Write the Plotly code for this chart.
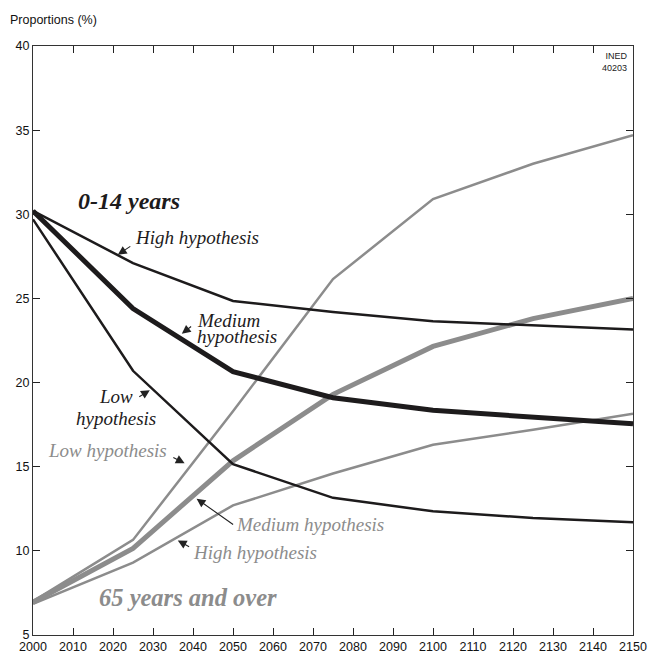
import plotly.graph_objects as go

years = [2000, 2025, 2050, 2075, 2100, 2125, 2150]
young_high = [30.2, 27.1, 24.85, 24.2, 23.65, 23.4, 23.15]
young_medium = [30.2, 24.4, 20.65, 19.1, 18.35, 17.95, 17.55]
young_low = [29.7, 20.7, 15.15, 13.15, 12.35, 11.95, 11.7]
old_low = [7.0, 10.65, 18.3, 26.15, 30.9, 33.0, 34.7]
old_medium = [6.95, 10.15, 15.35, 19.3, 22.15, 23.8, 25.0]
old_high = [6.85, 9.3, 12.7, 14.6, 16.3, 17.2, 18.15]

x_ticks = list(range(2000, 2151, 10))
y_ticks = [5, 10, 15, 20, 25, 30, 35, 40]

BLACK = "#1d1b1c"
GRAY = "#8c8c8c"
SERIF = "Liberation Serif, Times New Roman, serif"
SANS = "Liberation Sans, Arial, sans-serif"

fig = go.Figure()
series = [
    (old_high, GRAY, 2.5),
    (old_low, GRAY, 2.5),
    (old_medium, GRAY, 5),
    (young_low, BLACK, 2.5),
    (young_high, BLACK, 2.5),
    (young_medium, BLACK, 5),
]
for vals, col, w in series:
    fig.add_trace(go.Scatter(x=years, y=vals, mode="lines",
                             line=dict(color=col, width=w), hoverinfo="skip",
                             showlegend=False))

def txt(x, y, text, size, color, bold=False, italic=True, xanchor="center", family=SERIF):
    t = text
    if bold:
        t = "<b>" + t + "</b>"
    if italic:
        t = "<i>" + t + "</i>"
    fig.add_annotation(x=x, y=y, xref="x", yref="y", text=t, showarrow=False,
                       xanchor=xanchor, yanchor="middle",
                       font=dict(family=family, size=size, color=color))

def arrow(tx, ty, sx, sy):
    fig.add_annotation(x=tx, y=ty, ax=sx, ay=sy, xref="x", yref="y",
                       axref="x", ayref="y", text="", showarrow=True,
                       arrowhead=2, arrowsize=1.6, arrowwidth=1.1,
                       arrowcolor="#222222", standoff=0, startstandoff=0)

txt(2010.7, 30.8, "0-14 years", 24, BLACK, bold=True, xanchor="left")
txt(2024.9, 28.65, "High hypothesis", 19, BLACK, xanchor="left")
txt(2040.5, 23.7, "Medium", 19, BLACK, xanchor="left")
txt(2040.5, 22.75, "hypothesis", 19, BLACK, xanchor="left")
txt(2020.7, 19.2, "Low", 19, BLACK)
txt(2020.7, 17.85, "hypothesis", 19, BLACK)
txt(2003.3, 15.95, "Low hypothesis", 19, GRAY, xanchor="left")
txt(2050.3, 11.55, "Medium hypothesis", 19, GRAY, xanchor="left")
txt(2039.4, 9.9, "High hypothesis", 19, GRAY, xanchor="left")
txt(2016.0, 7.25, "65 years and over", 24.5, GRAY, bold=True, xanchor="left")

arrow(2021.2, 27.6, 2024.7, 28.15)
arrow(2037.2, 22.9, 2039.9, 23.4)
arrow(2029.2, 19.55, 2026.2, 19.1)
arrow(2037.9, 15.2, 2034.7, 15.6)
arrow(2040.9, 13.1, 2050.4, 11.5)
arrow(2036.2, 10.62, 2039.4, 10.2)

fig.add_annotation(x=1, y=1, xref="paper", yref="paper", xanchor="right",
                   yanchor="top", xshift=-3, yshift=-3, showarrow=False,
                   align="right", text="INED<br>40203",
                   font=dict(family="Liberation Sans Narrow, Arial Narrow, " + SANS,
                             size=9, color="#222222"))
fig.add_annotation(x=(8 - 33) / 600, y=1 + (46 - 20) / 589, xref="paper", yref="paper",
                   showarrow=False, text="Proportions (%)", xanchor="left",
                   yanchor="middle",
                   font=dict(family=SANS, size=12.5, color="#111111"))

fig.update_layout(
    width=650, height=662,
    margin=dict(l=33, r=17, t=46, b=27, autoexpand=False),
    paper_bgcolor="white", plot_bgcolor="white",
    xaxis=dict(range=[2000, 2150], tickvals=x_ticks, ticks="inside", ticklen=7,
               tickcolor="#222222", tickwidth=1, showgrid=False, zeroline=False,
               showline=True, linecolor="#333333", linewidth=1.3, mirror="ticks",
               automargin=False,
               tickfont=dict(family=SANS, size=12.5, color="#111111")),
    yaxis=dict(range=[5, 40], tickvals=y_ticks, ticks="inside", ticklen=7,
               tickcolor="#222222", tickwidth=1, showgrid=False, zeroline=False,
               showline=True, linecolor="#333333", linewidth=1.3, mirror="ticks",
               automargin=False,
               tickfont=dict(family=SANS, size=12.5, color="#111111")),
)

fig.write_html("out.html", config={"displayModeBar": False},
               post_script="document.body.style.margin='0';document.body.style.overflow='hidden';")
